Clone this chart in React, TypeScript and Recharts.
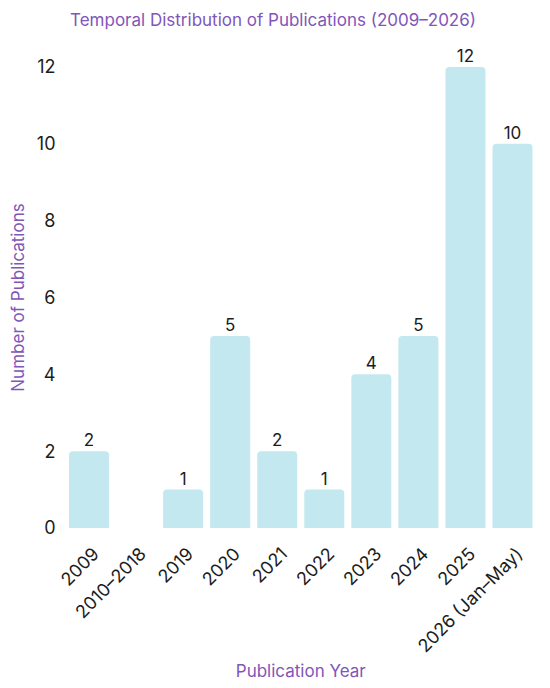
import { BarChart, Bar, XAxis, YAxis, LabelList } from 'recharts';

const years = ['2009', '2010–2018', '2019', '2020', '2021', '2022', '2023', '2024', '2025', '2026 (Jan–May)'];
const counts = [2, 0, 1, 5, 2, 1, 4, 5, 12, 10];
const yTicks = [0, 2, 4, 6, 8, 10, 12];

const data = years.map((year, i) => ({ year, count: counts[i] }));

const FONT = 'Inter, "DejaVu Sans", sans-serif';
const PURPLE = '#8156BA';
const INK = '#1c1c1c';
const BAR = '#C3E8EF';

function YearTick({ x, y, payload }: any) {
  return (
    <g transform={`translate(${x + 2},${y + 10})`}>
      <text
        transform="rotate(-45)"
        textAnchor="end"
        dy="0.72em"
        fontFamily={FONT}
        fontSize={18}
        fill={INK}
      >
        {payload.value}
      </text>
    </g>
  );
}

export default function App() {
  return (
    <div style={{ position: 'absolute', left: 0, top: 0, width: 550, height: 688, background: '#fff' }}>
      <div
        style={{
          position: 'absolute', left: 0, top: 8, width: 546, textAlign: 'center',
          fontFamily: FONT, fontSize: 17, lineHeight: '24px', color: PURPLE,
        }}
      >
        Temporal Distribution of Publications (2009–2026)
      </div>
      <BarChart
        width={550}
        height={688}
        data={data}
        margin={{ top: 67, right: 14, left: 0, bottom: 0 }}
        barCategoryGap="7.5%"
      >
        <XAxis
          dataKey="year"
          interval={0}
          axisLine={false}
          tickLine={false}
          height={160}
          tick={<YearTick />}
          label={{
            value: 'Publication Year',
            position: 'insideBottom',
            offset: 11,
            style: { fill: PURPLE, fontSize: 17, fontFamily: FONT },
          }}
        />
        <YAxis
          domain={[0, 12]}
          ticks={yTicks}
          width={65.5}
          axisLine={false}
          tickLine={false}
          tick={{ fill: INK, fontSize: 18, fontFamily: FONT, dx: -2 }}
          label={{
            value: 'Number of Publications',
            angle: -90,
            position: 'insideLeft',
            offset: 18,
            style: { textAnchor: 'middle', fill: PURPLE, fontSize: 17, fontFamily: FONT },
          }}
        />
        <Bar dataKey="count" fill={BAR} radius={[4, 4, 0, 0]} isAnimationActive={false}>
          <LabelList
            dataKey="count"
            position="top"
            offset={5}
            formatter={(v: any) => (v === 0 ? '' : v)}
            style={{ fill: INK, fontSize: 17, fontFamily: FONT }}
          />
        </Bar>
      </BarChart>
    </div>
  );
}
